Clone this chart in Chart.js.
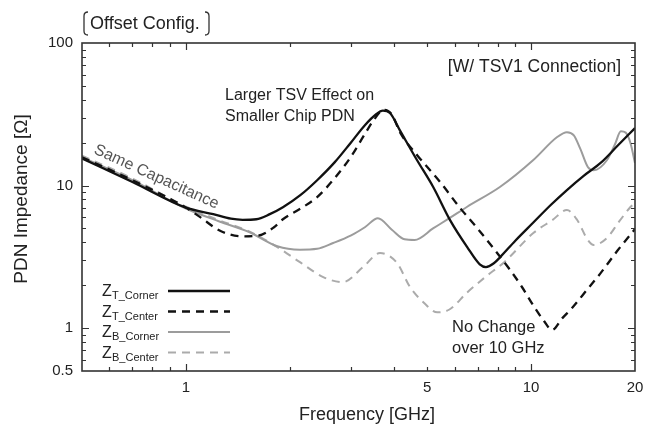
<!DOCTYPE html>
<html lang="en">
<head>
<meta charset="UTF-8">
<title>PDN Impedance - Offset Config.</title>
<script src="https://cdn.jsdelivr.net/npm/chart.js"></script>
<style>
  html, body { margin: 0; padding: 0; background: #fff; }
</style>
</head>
<body>
<canvas id="pdn-chart" width="654" height="428"></canvas>
<script>
// Frequencies in GHz, impedances in ohm
const tCornerF = [0.5, 0.7, 1.0, 1.2, 1.35, 1.46, 1.6, 1.75, 1.91, 2.15, 2.4, 2.7, 3.0, 3.3, 3.55, 3.72, 3.9, 4.18, 4.67, 5.2, 5.83, 6.53, 7.1, 7.4, 7.8, 8.14, 9.0, 10.15, 11.4, 12.7, 14.2, 15.9, 17.8, 20];
const tCornerZ = [15.5, 10.6, 7.0, 6.3, 5.85, 5.75, 5.8, 6.3, 7.05, 8.6, 10.9, 14.6, 19.9, 26.5, 31.5, 33.5, 32.3, 24.1, 15.1, 9.8, 5.7, 3.7, 2.8, 2.68, 2.85, 3.15, 4.1, 5.5, 7.3, 9.3, 11.7, 14.4, 19, 25.3];

const tCenterF = [0.5, 0.7, 1.0, 1.1, 1.26, 1.46, 1.62, 1.8, 1.91, 2.15, 2.4, 2.7, 3.0, 3.3, 3.5, 3.75, 3.95, 4.18, 4.67, 5.45, 6.23, 6.98, 7.8, 8.7, 9.4, 10.15, 10.9, 11.5, 12.3, 13.2, 14.5, 15.9, 17.8, 20];
const tCenterZ = [15.8, 10.9, 7.0, 6.0, 4.8, 4.4, 4.45, 5.1, 5.8, 6.9, 8.3, 11.3, 15.8, 23, 28.8, 34, 31.5, 23.4, 16.4, 10.6, 6.95, 5.03, 3.6, 2.55, 1.95, 1.44, 1.12, 0.97, 1.17, 1.4, 1.85, 2.43, 3.5, 4.95];

const bCornerF = [0.5, 0.7, 1.0, 1.25, 1.53, 1.84, 2.14, 2.4, 2.67, 3.0, 3.3, 3.6, 3.95, 4.3, 4.6, 5.2, 5.8, 6.53, 8.14, 10.15, 11.9, 12.7, 13.3, 13.9, 14.6, 15.2, 16.6, 17.5, 18.2, 18.8, 19.4, 20];
const bCornerZ = [15.8, 10.9, 6.9, 5.6, 4.7, 3.75, 3.55, 3.6, 3.95, 4.45, 5.1, 5.9, 4.9, 4.2, 4.15, 5.0, 5.9, 7.1, 9.8, 15.1, 21.9, 23.7, 22.5, 18, 13.5, 12.8, 15.1, 19.5, 24, 23.5, 19.9, 14.4];

const bCenterF = [0.5, 0.7, 1.0, 1.25, 1.53, 1.84, 2.14, 2.5, 2.85, 3.26, 3.65, 4.09, 4.46, 4.9, 5.35, 5.8, 6.53, 7.4, 8.36, 10.15, 11.5, 12.7, 13.6, 14.6, 15.2, 16.6, 18, 19.4, 20];
const bCenterZ = [16.2, 11.2, 7.1, 5.7, 4.75, 3.7, 2.9, 2.28, 2.1, 2.68, 3.36, 2.86, 1.94, 1.5, 1.29, 1.35, 1.78, 2.3, 2.9, 4.64, 5.7, 6.73, 5.73, 4.15, 3.82, 4.3, 5.6, 7.07, 7.6];

const seriesNames = ["T_Corner", "T_Center", "B_Corner", "B_Center"];
const xTickValues = [1, 5, 10, 20];
const yTickValues = [0.5, 1, 10, 100];

const FONT = '"Liberation Sans", Arial, Helvetica, sans-serif';
const INK = "#222";

function pairs(fs, zs) {
    return fs.map((f, i) => ({ x: f, y: zs[i] }));
}

function lineStyle(color, width, dash) {
    return {
        borderColor: color,
        backgroundColor: color,
        borderWidth: width,
        borderDash: dash,
        pointRadius: 0,
        fill: false,
        cubicInterpolationMode: "monotone"
    };
}

// every 1..9 x 10^n step inside the range
function logSteps(min, max) {
    const out = [];
    for (let e = -1; e <= 2; e++) {
        for (let m = 1; m <= 9; m++) {
            const v = +(m * Math.pow(10, e)).toPrecision(3);
            if (v > min && v < max) out.push({ v: v, major: m === 1 });
        }
    }
    return out;
}

function put(ctx, str, x, y, size, align) {
    ctx.font = size + "px " + FONT;
    ctx.textAlign = align || "left";
    ctx.fillText(str, x, y);
}

// box with inward ticks on all four sides
const framePlugin = {
    id: "frame",
    afterDatasetsDraw(chart) {
        const { ctx, chartArea: a, scales: { x, y } } = chart;
        ctx.save();
        ctx.strokeStyle = "#333";
        ctx.lineWidth = 1.2;
        ctx.beginPath();
        logSteps(0.5, 20).forEach(t => {
            const px = Math.round(x.getPixelForValue(t.v)) + 0.5;
            const len = t.major ? 7 : 4;
            ctx.moveTo(px, a.bottom); ctx.lineTo(px, a.bottom - len);
            ctx.moveTo(px, a.top); ctx.lineTo(px, a.top + len);
        });
        logSteps(0.5, 100).forEach(t => {
            const py = Math.round(y.getPixelForValue(t.v)) + 0.5;
            const len = t.major ? 7 : 4;
            ctx.moveTo(a.left, py); ctx.lineTo(a.left + len, py);
            ctx.moveTo(a.right, py); ctx.lineTo(a.right - len, py);
        });
        ctx.stroke();
        ctx.lineWidth = 1.6;
        ctx.strokeRect(a.left, a.top, a.right - a.left, a.bottom - a.top);
        ctx.restore();
    }
};

// titles, annotations and the Z legend
const notesPlugin = {
    id: "notes",
    afterDraw(chart) {
        const ctx = chart.ctx;
        ctx.save();
        ctx.fillStyle = INK;
        ctx.textBaseline = "alphabetic";

        // [ Offset Config. ]
        put(ctx, "Offset Config.", 90, 29, 18);
        ctx.strokeStyle = "#333";
        ctx.lineWidth = 1.3;
        ctx.beginPath();
        ctx.moveTo(88, 12); ctx.quadraticCurveTo(84, 12, 84, 16); ctx.lineTo(84, 31); ctx.quadraticCurveTo(84, 35, 88, 35);
        ctx.moveTo(205, 12); ctx.quadraticCurveTo(209, 12, 209, 16); ctx.lineTo(209, 31); ctx.quadraticCurveTo(209, 35, 205, 35);
        ctx.stroke();

        put(ctx, "[W/ TSV1 Connection]", 621, 72, 17.5, "right");
        put(ctx, "Larger TSV Effect on", 225, 100, 16);
        put(ctx, "Smaller Chip PDN", 225, 121, 16);
        put(ctx, "No Change", 452, 332, 16.5);
        put(ctx, "over 10 GHz", 452, 353, 16.5);

        ctx.save();
        ctx.fillStyle = "#555";
        ctx.translate(93, 153);
        ctx.rotate(24.5 * Math.PI / 180);
        put(ctx, "Same Capacitance", 0, 0, 16);
        ctx.restore();

        // axis titles
        put(ctx, "Frequency [GHz]", 367, 420, 18, "center");
        ctx.save();
        ctx.translate(22, 199);
        ctx.rotate(-Math.PI / 2);
        ctx.textBaseline = "middle";
        put(ctx, "PDN Impedance [\u03A9]", 0, 0, 19, "center");
        ctx.restore();

        // legend
        const rows = [291, 311.5, 332, 352.5];
        chart.data.datasets.forEach((ds, i) => {
            const ry = rows[i];
            ctx.fillStyle = INK;
            put(ctx, "Z", 102, ry + 5, 16);
            put(ctx, seriesNames[i], 112, ry + 8, 11);
            ctx.strokeStyle = ds.borderColor;
            ctx.lineWidth = ds.borderWidth;
            ctx.setLineDash(ds.borderDash || []);
            ctx.beginPath();
            ctx.moveTo(168, ry);
            ctx.lineTo(230, ry);
            ctx.stroke();
            ctx.setLineDash([]);
        });
        ctx.restore();
    }
};

new Chart(document.getElementById("pdn-chart").getContext("2d"), {
    type: "line",
    data: {
        datasets: [
            Object.assign({ label: "Z T_Corner", data: pairs(tCornerF, tCornerZ) }, lineStyle("#111", 2.3, [])),
            Object.assign({ label: "Z T_Center", data: pairs(tCenterF, tCenterZ) }, lineStyle("#111", 2.3, [8, 6])),
            Object.assign({ label: "Z B_Corner", data: pairs(bCornerF, bCornerZ) }, lineStyle("#9c9c9c", 2, [])),
            Object.assign({ label: "Z B_Center", data: pairs(bCenterF, bCenterZ) }, lineStyle("#ababab", 2, [8, 6]))
        ]
    },
    options: {
        responsive: false,
        animation: false,
        layout: { padding: { top: 43, right: 19, left: 0, bottom: 0 } },
        plugins: {
            legend: { display: false },
            tooltip: { enabled: false }
        },
        scales: {
            x: {
                type: "logarithmic",
                min: 0.5,
                max: 20,
                afterBuildTicks: s => { s.ticks = xTickValues.map(v => ({ value: v })); },
                afterFit: s => { s.height = 57; },
                ticks: {
                    autoSkip: false,
                    maxRotation: 0,
                    padding: 8,
                    color: INK,
                    font: { family: FONT, size: 15 },
                    callback: v => String(v)
                },
                grid: { display: false, drawTicks: false },
                border: { display: false }
            },
            y: {
                type: "logarithmic",
                min: 0.5,
                max: 100,
                afterBuildTicks: s => { s.ticks = yTickValues.map(v => ({ value: v })); },
                afterFit: s => { s.width = 82; },
                ticks: {
                    autoSkip: false,
                    padding: 9,
                    color: INK,
                    font: { family: FONT, size: 15 },
                    callback: v => String(v)
                },
                grid: { display: false, drawTicks: false },
                border: { display: false }
            }
        }
    },
    plugins: [framePlugin, notesPlugin]
});
</script>
</body>
</html>
